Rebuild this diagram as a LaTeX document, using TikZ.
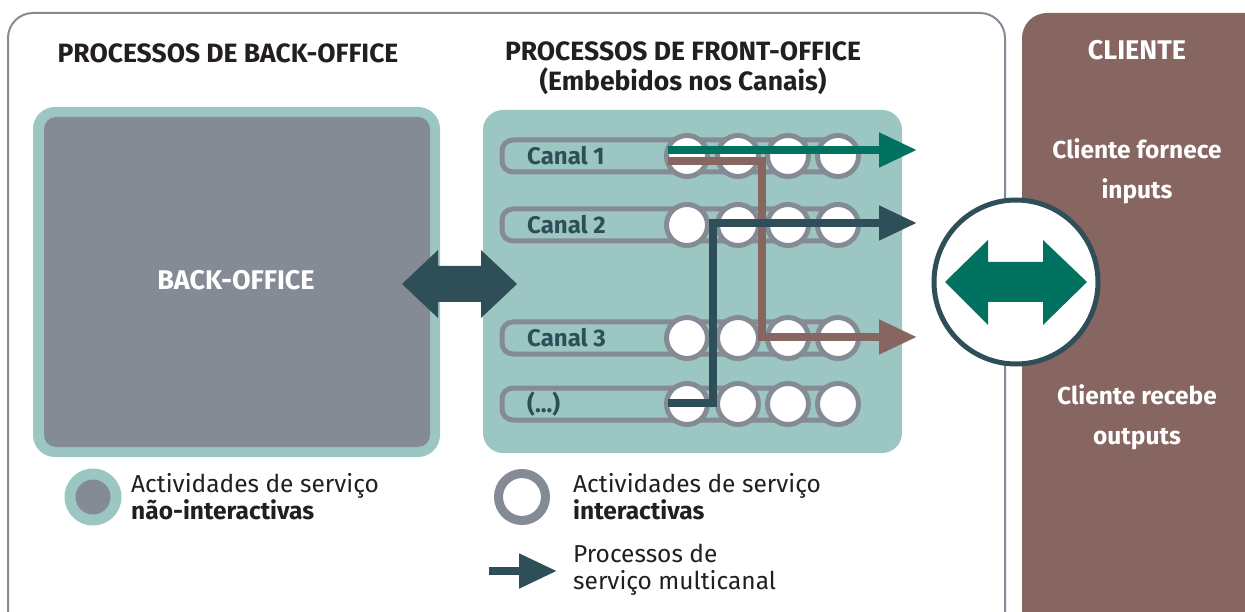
\documentclass[tikz,border=0pt]{standalone}
\usepackage{fontspec}
\setmainfont{Fira Sans}
\usetikzlibrary{arrows.meta}
\definecolor{teal1}{HTML}{9CC6C1}
\definecolor{gray1}{HTML}{858B95}
\definecolor{dark1}{HTML}{2E4F58}
\definecolor{green1}{HTML}{00725F}
\definecolor{brown1}{HTML}{876561}
\definecolor{ink}{HTML}{231F20}
\newcommand{\chdots}{(...)}
\tikzset{
  x=1pt, y=-1pt,
  title/.style={font=\fontsize{26.5}{30}\selectfont\bfseries, text=ink, align=center, inner sep=0},
  chanlabel/.style={font=\fontsize{24}{27}\selectfont\bfseries, text=dark1, anchor=west, inner sep=0},
  chanbar/.style={draw=gray1, line width=5pt, rounded corners=11pt},
  act/.style={circle, draw=gray1, fill=white, line width=5pt, minimum size=41pt, inner sep=0},
  clitext/.style={font=\fontsize{24.5}{40}\selectfont\bfseries, text=white, align=center, inner sep=0},
  legtext/.style={font=\fontsize{24.5}{27}\selectfont, text=ink, align=left, anchor=west, inner sep=0},
  flow/.style={line width=8pt, -{Triangle[length=38pt,width=33pt]}},
}
\begin{document}
\begin{tikzpicture}
\useasboundingbox (0,0) rectangle (1245,612);
\clip (0,0) rectangle (1245,612);
% panels
\draw[gray1, line width=2pt, rounded corners=25pt, fill=white] (8,13) rectangle (1005,650);
\fill[brown1, rounded corners=25pt] (1022,13) rectangle (1280,650);
% titles
\node[title] (t1) at (228,53) {PROCESSOS DE BACK-OFFICE};
\node[title] (t2) at (683,68) {PROCESSOS DE FRONT-OFFICE\\(Embebidos nos Canais)};
\node[clitext, font=\fontsize{27}{30}\selectfont\bfseries] (tc) at (1137,50) {CLIENTE};
\node[clitext] (ci) at (1137,171) {Cliente fornece\\inputs};
\node[clitext] (co) at (1137,417) {Cliente recebe\\outputs};
% back office
\fill[teal1, rounded corners=22pt] (33,107) rectangle (440,457);
\fill[gray1, rounded corners=12pt] (44,117) rectangle (430,447);
\node[font=\fontsize{27}{30}\selectfont\bfseries, text=white] (bo) at (236,280) {BACK-OFFICE};
% front office box
\fill[teal1, rounded corners=20pt] (483,110) rectangle (902,453);
% double arrow back/front
\fill[dark1] (402,284) -- (438,250) -- (438,266) -- (481,266) -- (481,250) -- (517,284)
  -- (481,318) -- (481,302) -- (438,302) -- (438,318) -- cycle;
% channels
\foreach \y/\lab/\nm in {156/Canal 1/a, 225/Canal 2/b, 338/Canal 3/c, 404/\chdots/d}{
  \draw[chanbar] (502,\y-16) rectangle (840,\y+16);
  \node[chanlabel] (lab\nm) at (527,\y) {\lab};
  \foreach \cx/\k in {687/1,738/2,788/3,838/4}{
    \node[act] (\nm\k) at (\cx,\y) {};
  }
}
% flows
\coordinate (g0) at (668,150); \coordinate (g1) at (917,150);
\draw[flow, green1] (g0) -- (g1);
\coordinate (r0) at (668,161); \coordinate (r1) at (762,161); \coordinate (r2) at (762,337); \coordinate (r3) at (917,337);
\draw[flow, brown1] (r0) -- (r1) -- (r2) -- (r3);
\coordinate (k0) at (668,403); \coordinate (k1) at (713,403); \coordinate (k2) at (713,223); \coordinate (k3) at (917,223);
\draw[flow, dark1] (k0) -- (k1) -- (k2) -- (k3);
% big circle
\node[circle, draw=dark1, fill=white, line width=5pt, minimum size=164pt, inner sep=0] (big) at (1016,282) {};
\fill[green1] (945,282) -- (988,240) -- (988,262) -- (1043,262) -- (1043,240) -- (1087,282)
  -- (1043,325) -- (1043,302) -- (988,302) -- (988,325) -- cycle;
% legend
\node[circle, fill=teal1, minimum width=57pt, minimum height=57pt, inner sep=0] (l1) at (93,497) {};
\node[circle, fill=gray1, minimum size=35pt, inner sep=0] (l1i) at (93,497) {};
\node[legtext] (l1t) at (131,497) {Actividades de serviço\\\textbf{não-interactivas}};
\node[circle, draw=gray1, fill=white, line width=9pt, minimum size=47pt, inner sep=0] (l2) at (522,497) {};
\node[legtext] (l2t) at (573,497) {Actividades de serviço\\\textbf{interactivas}};
\coordinate (la0) at (489,571); \coordinate (la1) at (557,571);
\draw[flow, dark1] (la0) -- (la1);
\node[legtext] (l3t) at (573,570) {Processos de\\serviço multicanal};
\end{tikzpicture}
\end{document}
